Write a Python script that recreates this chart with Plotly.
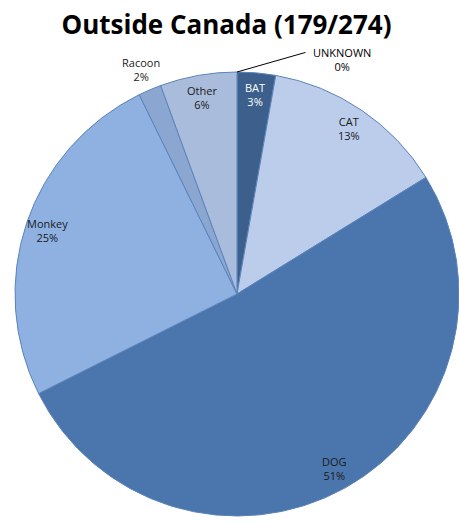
import math
import plotly.graph_objects as go

# ---- data ----
labels = ["UNKNOWN", "BAT", "CAT", "DOG", "Monkey", "Racoon", "Other"]
counts = [0, 5, 24, 92, 45, 3, 10]
colors = ["#2f4b73", "#3c5f8c", "#bccdeb", "#4a76ad", "#8fb1e2", "#8ba6d0", "#a9bcdc"]
text_colors = ["#000000", "#ffffff", "#1a1a1a", "#1a1a1a", "#1a1a1a", "#1a1a1a", "#1a1a1a"]
title_text = "Outside Canada (179/274)"

W, H = 459, 522
L, R, T, B = 15, 0, 72, 6

# pie only with non-zero slices
pie_idx = [i for i, v in enumerate(counts) if v > 0]
fig = go.Figure(go.Pie(
    labels=[labels[i] for i in pie_idx],
    values=[counts[i] for i in pie_idx],
    marker=dict(colors=[colors[i] for i in pie_idx], line=dict(color="#5a84ba", width=1)),
    sort=False, direction="clockwise", rotation=0,
    textinfo="none", hoverinfo="label+percent", showlegend=False,
    domain=dict(x=[0, 1], y=[0, 1]),
))

total = sum(counts)
font = dict(family="Open Sans, Liberation Sans, sans-serif", size=11)
annotations = []
cum = 0.0
for i, (lab, v) in enumerate(zip(labels, counts)):
    frac = v / total
    mid = (cum + frac / 2) * 2 * math.pi
    cum += frac
    pct = f"{round(frac * 100):d}%"
    txt = f"{lab}<br>{pct}"
    if v == 0:
        # leader line from the pie edge to the label
        ex, ey = 0.5 + 0.5 * math.sin(mid), 0.5 + 0.5 * math.cos(mid)
        annotations.append(dict(x=ex, y=ey, xref="paper", yref="paper", text="",
                                showarrow=True, arrowhead=0, arrowwidth=1, arrowcolor="#000",
                                ax=70, ay=-20, standoff=0, startstandoff=0))
        annotations.append(dict(x=ex, y=ey, xref="paper", yref="paper", text=txt,
                                showarrow=False, xshift=105, yshift=13,
                                xanchor="center", yanchor="middle",
                                font=dict(font, color=text_colors[i])))
        continue
    k = 1.1 if frac < 0.02 else 0.9
    x = 0.5 + 0.5 * k * math.sin(mid)
    y = 0.5 + 0.5 * k * math.cos(mid)
    annotations.append(dict(x=x, y=y, xref="paper", yref="paper", text=txt,
                            showarrow=False, xanchor="center", yanchor="middle",
                            font=dict(font, color=text_colors[i])))

fig.update_layout(
    width=W, height=H,
    margin=dict(l=L, r=R, t=T, b=B, pad=0),
    paper_bgcolor="white", plot_bgcolor="white",
    title=dict(text=f"<b>{title_text}</b>", x=226.5 / W, xanchor="center",
               y=1 - 25 / H, yanchor="middle", xref="container", yref="container",
               font=dict(family="Open Sans, Liberation Sans, sans-serif", size=26, color="#000")),
    annotations=annotations,
)

fig.write_html("out.html", config={"displayModeBar": False},
               post_script="document.body.style.margin='0';")
